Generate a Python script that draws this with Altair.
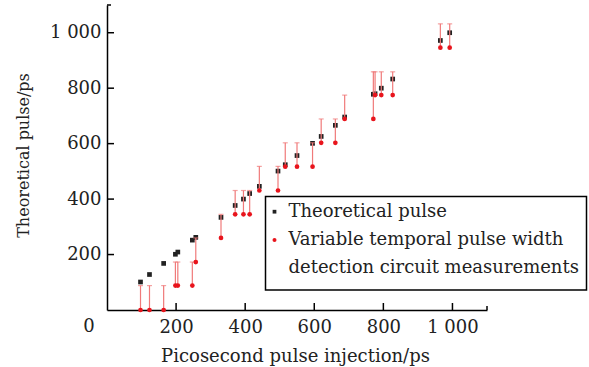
import altair as alt
import pandas as pd

# ---- data ----
injection = [97, 123, 164, 198, 205, 247, 257, 330, 371, 395, 413, 441, 495,
             516, 550, 595, 620, 661, 688, 771, 776, 794, 827, 965, 992]
theoretical = [101, 128, 168, 201, 209, 252, 262, 334, 377, 400, 420, 446, 501,
               524, 557, 601, 626, 666, 696, 778, 780, 800, 833, 972, 1000]
measured = [0, 0, 0, 88, 88, 88, 173, 260, 345, 345, 345, 431, 431,
            517, 517, 517, 603, 603, 689, 689, 775, 775, 775, 946, 946]
upper = [88, 88, 88, 173, 173, 173, 260, 345, 431, 431, 431, 518, 518,
         603, 603, 603, 689, 689, 775, 859, 859, 859, 859, 1032, 1032]

tick_values = [200, 400, 600, 800, 1000]
axis_end = [1100]
legend_labels = ["Theoretical pulse",
                 "Variable temporal pulse width",
                 "detection circuit measurements"]

FONT = "DejaVu Serif"
FS = 18
RED = "#e8141c"
PINK = "#f07a7a"
BLACK = "#222222"

df = pd.DataFrame({"x": injection, "theo": theoretical,
                   "meas": measured, "up": upper})
ticks_df = pd.DataFrame({"v": tick_values})
end_df = pd.DataFrame({"v": axis_end})

W, H = 380, 305
xs = alt.Scale(domain=[0, 1100], nice=False)
ys = alt.Scale(domain=[0, 1100], nice=False)

lab_expr = "replace(format(datum.value, ','), ',', ' ')"

base = alt.Chart(df)

theo_pts = base.mark_square(size=22, color=BLACK, opacity=1).encode(
    x=alt.X("x:Q", scale=xs,
            axis=alt.Axis(values=tick_values, ticks=False, grid=False,
                          labelExpr=lab_expr, labelPadding=8,
                          title="Picosecond pulse injection/ps",
                          titleX=188, titleY=51, titleAnchor="start",
                          titleAlign="center", titleBaseline="alphabetic")),
    y=alt.Y("theo:Q", scale=ys,
            axis=alt.Axis(values=tick_values, ticks=False, grid=False,
                          labelExpr=lab_expr, labelPadding=6,
                          title="Theoretical pulse/ps", titleFontSize=16,
                          titleX=-84, titleY=150, titleAngle=-90,
                          titleAlign="center", titleBaseline="middle")),
)

err = base.mark_rule(color=PINK, strokeWidth=1.2).encode(
    x="x:Q", y="meas:Q", y2="up:Q")
caps = base.mark_tick(color=PINK, orient="horizontal", size=5, thickness=1.2).encode(
    x="x:Q", y="up:Q")
meas_pts = base.mark_circle(size=22, color=RED, opacity=1).encode(
    x="x:Q", y="meas:Q")

xt = alt.Chart(ticks_df).mark_rule(color="black", strokeWidth=1.5).encode(
    x=alt.X("v:Q", scale=xs), y=alt.value(H), y2=alt.value(H - 7))
yt = alt.Chart(ticks_df).mark_rule(color="black", strokeWidth=1.5).encode(
    y=alt.Y("v:Q", scale=ys), x=alt.value(0), x2=alt.value(7))
xe = alt.Chart(end_df).mark_rule(color="black", strokeWidth=1.5).encode(
    x=alt.X("v:Q", scale=xs), y=alt.value(H), y2=alt.value(H - 4))
ye = alt.Chart(end_df).mark_rule(color="black", strokeWidth=1.5).encode(
    y=alt.Y("v:Q", scale=ys), x=alt.value(0), x2=alt.value(4))

zero_lbl = alt.Chart(pd.DataFrame({"t": ["0"]})).mark_text(
    font=FONT, fontSize=FS, color=BLACK, align="center", baseline="middle").encode(
    x=alt.value(-18), y=alt.value(H + 17), text="t:N")

one = pd.DataFrame({"a": [0]})
leg_box = alt.Chart(one).mark_rect(fill="white", stroke="black", strokeWidth=1.5).encode(
    x=alt.value(158.5), x2=alt.value(479.5), y=alt.value(191.5), y2=alt.value(285))
leg_sq = alt.Chart(one).mark_square(size=14, color=BLACK, opacity=1).encode(
    x=alt.value(167.5), y=alt.value(206.7))
leg_ci = alt.Chart(one).mark_circle(size=16, color=RED, opacity=1).encode(
    x=alt.value(167.5), y=alt.value(235))

leg_txt = []
for lab, yy in zip(legend_labels, [206.7, 235, 263]):
    leg_txt.append(
        alt.Chart(pd.DataFrame({"t": [lab]})).mark_text(
            font=FONT, fontSize=FS, color=BLACK, align="left",
            baseline="middle").encode(
            x=alt.value(181.5), y=alt.value(yy), text="t:N"))

chart = alt.layer(
    theo_pts, err, caps, meas_pts, xt, yt, xe, ye, zero_lbl,
    leg_box, leg_sq, leg_ci, *leg_txt
).properties(
    width=W, height=H,
    autosize=alt.AutoSizeParams(type="none"),
    padding={"left": 107, "top": 5, "right": 102, "bottom": 57},
    background="white",
).configure_view(stroke=None).configure_axis(
    domainColor="black", domainWidth=1.5,
    labelFont=FONT, labelFontSize=FS, labelColor=BLACK,
    titleFont=FONT, titleFontSize=FS, titleColor=BLACK, titleFontWeight="normal",
)

chart.save("out.html", embed_options={"renderer": "svg", "actions": False})
